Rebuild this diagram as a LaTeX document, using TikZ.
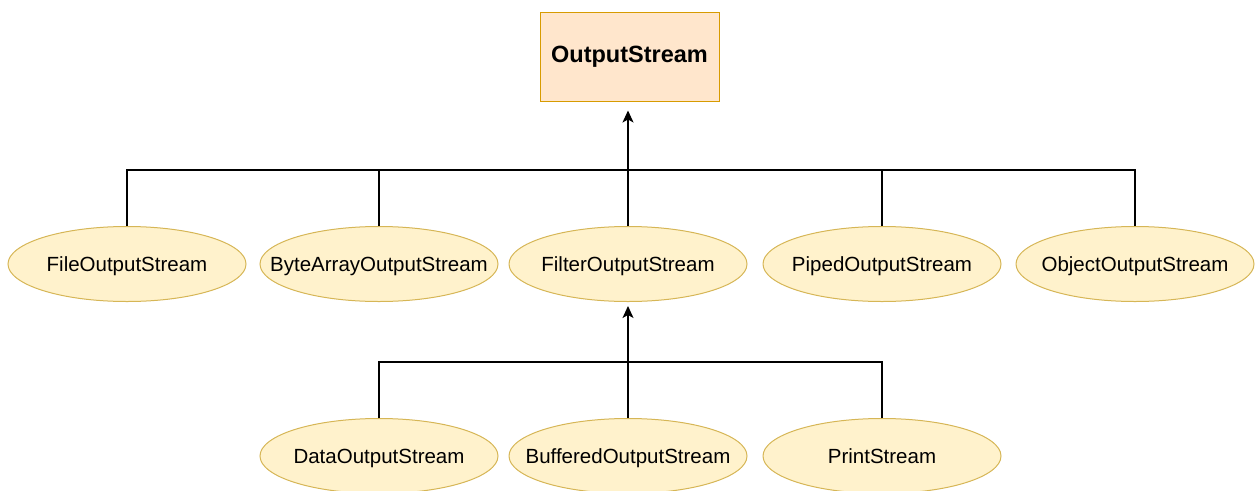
\documentclass[tikz,border=0pt]{standalone}
\usepackage{fontspec}
\setmainfont{Liberation Sans}
\usetikzlibrary{positioning,arrows.meta,shapes.geometric}
\definecolor{boxfill}{HTML}{FFE6CC}
\definecolor{boxline}{HTML}{D79B00}
\definecolor{ellfill}{HTML}{FFF2CC}
\definecolor{ellline}{HTML}{D6B656}
\begin{document}
\begin{tikzpicture}[x=1pt,y=-1pt] % иерархия потоков
\tikzstyle{mybox} = [rectangle, draw=boxline, fill=boxfill, line width=1pt, minimum width=179pt, minimum height=89pt, font=\fontsize{23.5}{27}\selectfont\bfseries] % базовый класс
\tikzstyle{myell} = [ellipse, draw=ellline, fill=ellfill, line width=1pt, minimum width=238pt, minimum height=75pt, inner sep=0pt] % подклассы
\tikzstyle{every label} = [font=\fontsize{20.5}{24}\selectfont, inner sep=0pt, text height=15pt, text depth=0pt]
\tikzstyle{myline} = [line width=1.3pt] % соединительные линии
\tikzstyle{myarrow} = [myline, -{Stealth[length=12pt, width=11pt, inset=3pt]}]
\useasboundingbox (0,0) rectangle (1255,490);

\node[mybox] (root) at (629.5,56.5) {OutputStream};

% первый уровень
\node[myell, label=center:{FilterOutputStream}] (filter) at (628,264) {};
\node[myell, left=10pt of filter, label=center:{ByteArrayOutputStream}] (bytearray) {};
\node[myell, left=13pt of bytearray, label=center:{FileOutputStream}] (file) {};
\node[myell, right=15pt of filter, label=center:{PipedOutputStream}] (piped) {};
\node[myell, right=14pt of piped, label=center:{ObjectOutputStream}] (object) {};

% второй уровень
\node[myell, label=center:{BufferedOutputStream}] (buffered) at (628,456) {};
\node[myell, left=10pt of buffered, label=center:{DataOutputStream}] (data) {};
\node[myell, right=15pt of buffered, label=center:{PrintStream}] (print) {};

\coordinate (bus1) at (628,170);
\coordinate (bus2) at (628,362);
\foreach \n in {file,bytearray,piped,object}
    \draw[myline] (\n.north) |- (bus1);
\draw[myarrow, shorten >=9pt] (filter.north) -- (filter.north |- root.south);
\foreach \n in {data,print}
    \draw[myline] (\n.north) |- (bus2);
\draw[myarrow, shorten >=4pt] (buffered.north) -- (filter.south);
\end{tikzpicture}
\end{document}
